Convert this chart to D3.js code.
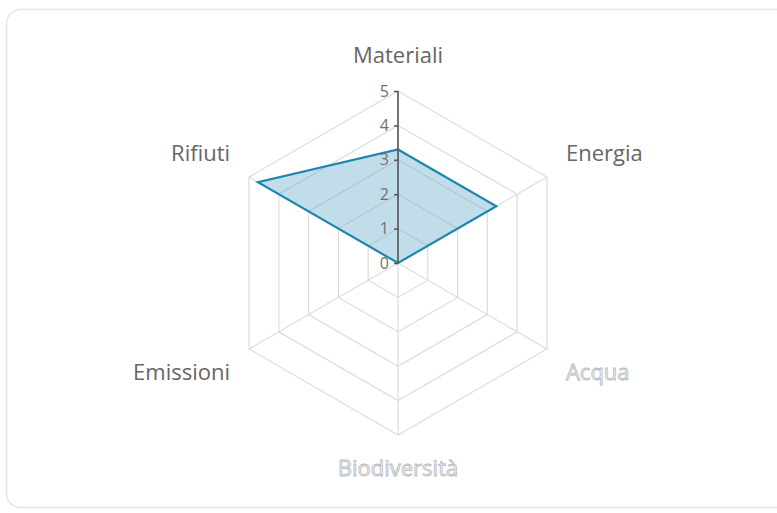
<!DOCTYPE html>
<html><head><meta charset="utf-8">
<script src="https://cdn.jsdelivr.net/npm/d3@7"></script>
<style>html,body{margin:0;padding:0;background:#fff;}svg{display:block;font-family:"Open Sans",sans-serif;}</style>
</head><body>
<svg id="c" width="777" height="513"></svg>
<script>
const categories = ["Materiali","Energia","Acqua","Biodiversità","Emissioni","Rifiuti"];
const values = [3.3, 3.3, 0, 0, 0, 4.7];
const ticks = [0,1,2,3,4,5];

const svg = d3.select("#c");
const cx = 398, cy = 263, R = 172;
svg.append("rect").attr("x",6.5).attr("y",9.5).attr("width",790).attr("height",498)
  .attr("rx",14).attr("fill","#fff").attr("stroke","#e6e6e6").attr("stroke-width",1.5);

const r = d3.scaleLinear().domain([0,5]).range([0,R]);
const ang = d3.scalePoint().domain(categories).range([0, 2*Math.PI*(5/6)]);
const pt = (c,v)=>{const a=ang(c); return [cx + r(v)*Math.sin(a), cy - r(v)*Math.cos(a)];};

const g = svg.append("g");
ticks.filter(t=>t>0).forEach(t=>{
  g.append("polygon").attr("points", categories.map(c=>pt(c,t).join(",")).join(" "))
   .attr("fill","none").attr("stroke","#dcdcdc").attr("stroke-width",1.2);
});
categories.forEach(c=>{
  const p = pt(c,5);
  g.append("line").attr("x1",cx).attr("y1",cy).attr("x2",p[0]).attr("y2",p[1])
   .attr("stroke","#dcdcdc").attr("stroke-width",1.2);
});
const line = d3.lineRadial().angle((d,i)=>ang(categories[i])).radius(d=>r(d)).curve(d3.curveLinearClosed);
g.append("path").attr("transform",`translate(${cx},${cy})`).attr("d", line(values))
  .attr("fill","rgba(110,175,205,0.42)").attr("stroke","#1f86b0").attr("stroke-width",2.2).attr("stroke-linejoin","miter");

const axis = d3.axisLeft(d3.scaleLinear().domain([0,5]).range([cy, cy-R])).tickValues(ticks)
  .tickFormat(d3.format("d")).tickSize(4).tickPadding(5);
const ag = svg.append("g").attr("transform",`translate(${cx},0)`).call(axis);
ag.select(".domain").attr("stroke","#555").attr("stroke-width",1.6).attr("d",`M0,${cy}V${cy-R}`);
ag.selectAll(".tick line").attr("stroke","#555").attr("stroke-width",1.5);
ag.selectAll(".tick text").attr("fill","#707070").attr("font-size",16).attr("font-family","Open Sans, sans-serif");

const lab = {
  "Materiali":{dx:0,dy:-36,anchor:"middle",light:false},
  "Energia":{dx:19,dy:-24,anchor:"start",light:false},
  "Acqua":{dx:19,dy:23,anchor:"start",light:true},
  "Biodiversità":{dx:0,dy:33,anchor:"middle",light:true},
  "Emissioni":{dx:-19,dy:23,anchor:"end",light:false},
  "Rifiuti":{dx:-19,dy:-24,anchor:"end",light:false}
};
categories.forEach(c=>{
  const p = pt(c,5), L = lab[c];
  const t = svg.append("text").attr("x",p[0]+L.dx).attr("y",p[1]+L.dy).attr("dy","0.35em")
    .attr("text-anchor",L.anchor).attr("font-size",22).text(c);
  if(L.light) t.attr("fill","#f4f4f4").attr("stroke","#b8b8b8").attr("stroke-width",0.8);
  else t.attr("fill","#666");
});
</script>
</body></html>
